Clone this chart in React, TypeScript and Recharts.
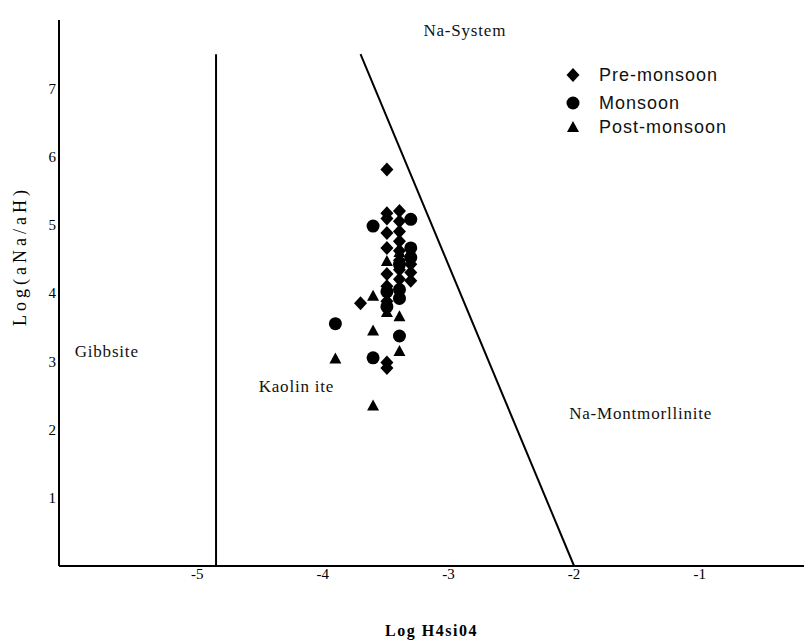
import {
  ScatterChart,
  Scatter,
  XAxis,
  YAxis,
  ReferenceLine,
  ReferenceDot,
} from "recharts";

type Pt = { x: number; y: number };

// Log H4SiO4 vs Log(aNa/aH)
const preMonsoon: Pt[] = [
  { x: -3.49, y: 5.81 }, { x: -3.49, y: 5.17 }, { x: -3.49, y: 5.09 },
  { x: -3.49, y: 4.88 }, { x: -3.49, y: 4.66 }, { x: -3.49, y: 4.28 },
  { x: -3.49, y: 4.1 }, { x: -3.49, y: 3.88 }, { x: -3.7, y: 3.85 },
  { x: -3.49, y: 2.98 }, { x: -3.49, y: 2.9 }, { x: -3.39, y: 5.2 },
  { x: -3.39, y: 5.05 }, { x: -3.39, y: 4.9 }, { x: -3.39, y: 4.76 },
  { x: -3.39, y: 4.62 }, { x: -3.39, y: 4.48 }, { x: -3.39, y: 4.34 },
  { x: -3.39, y: 4.2 }, { x: -3.3, y: 4.42 }, { x: -3.3, y: 4.3 },
  { x: -3.3, y: 4.18 },
];

const monsoon: Pt[] = [
  { x: -3.6, y: 4.98 }, { x: -3.3, y: 5.08 }, { x: -3.3, y: 4.66 },
  { x: -3.3, y: 4.52 }, { x: -3.39, y: 4.05 }, { x: -3.39, y: 3.92 },
  { x: -3.49, y: 4.02 }, { x: -3.49, y: 3.8 }, { x: -3.9, y: 3.55 },
  { x: -3.39, y: 3.37 }, { x: -3.6, y: 3.05 }, { x: -3.39, y: 4.42 },
];

const postMonsoon: Pt[] = [
  { x: -3.49, y: 4.47 }, { x: -3.6, y: 3.96 }, { x: -3.39, y: 3.66 },
  { x: -3.49, y: 3.72 }, { x: -3.6, y: 3.45 }, { x: -3.9, y: 3.04 },
  { x: -3.39, y: 3.15 }, { x: -3.6, y: 2.35 }, { x: -3.39, y: 4.6 },
];

const xTicks = [-5, -4, -3, -2, -1];
const yTicks = [1, 2, 3, 4, 5, 6, 7];

// stability field boundaries
const gibbsiteKaolinite: Pt[] = [{ x: -4.85, y: 0 }, { x: -4.85, y: 7.5 }];
const kaoliniteMont: Pt[] = [{ x: -3.7, y: 7.5 }, { x: -2, y: 0 }];

const fields = [
  { name: "Na-System", x: -2.87, y: 7.85 },
  { name: "Gibbsite", x: -5.72, y: 3.15 },
  { name: "Kaolin ite", x: -4.21, y: 2.63 },
  { name: "Na-Montmorllinite", x: -1.47, y: 2.23 },
];

const SERIF = '"Liberation Serif", "DejaVu Serif", serif';
const SANS = '"Liberation Sans", Arial, sans-serif';

const Diamond = (p: any) => (
  <polygon
    points={`${p.cx},${p.cy - 7} ${p.cx + 6.5},${p.cy} ${p.cx},${p.cy + 7} ${p.cx - 6.5},${p.cy}`}
    fill="#000"
  />
);
const Circle = (p: any) => <circle cx={p.cx} cy={p.cy} r={6.5} fill="#000" />;
const Triangle = (p: any) => (
  <polygon
    points={`${p.cx},${p.cy - 6} ${p.cx + 6},${p.cy + 5} ${p.cx - 6},${p.cy + 5}`}
    fill="#000"
  />
);

const fieldLabel = (text: string) => (props: any) => {
  const vb = props.viewBox;
  return (
    <text
      x={vb.x + vb.width / 2}
      y={vb.y + vb.height / 2}
      textAnchor="middle"
      dominantBaseline="central"
      fontFamily={SERIF}
      fontSize={17}
      letterSpacing={0.8}
      fill="#111"
    >
      {text}
    </text>
  );
};

const legendItems = [
  { label: "Pre-monsoon", Shape: Diamond, top: 66 },
  { label: "Monsoon", Shape: Circle, top: 94 },
  { label: "Post-monsoon", Shape: Triangle, top: 118 },
];

export default function App() {
  return (
    <div style={{ position: "absolute", left: 0, top: 0, width: 804, height: 643, background: "#fff" }}>
      <ScatterChart
        width={804}
        height={643}
        margin={{ top: 20, right: 0, bottom: 0, left: 0 }}
      >
        <XAxis
          type="number"
          dataKey="x"
          domain={[-6.1, -0.17]}
          ticks={xTicks}
          allowDataOverflow
          height={77}
          tickLine={false}
          tickSize={2}
          tickMargin={0}
          axisLine={{ stroke: "#000", strokeWidth: 2 }}
          tick={{ fill: "#000", fontSize: 15, fontFamily: SERIF }}
          label={(props: any) => {
            const vb = props.viewBox;
            return (
              <text
                x={vb.x + vb.width / 2}
                y={vb.y + 64}
                textAnchor="middle"
                dominantBaseline="central"
                fontFamily={SERIF}
                fontWeight="bold"
                fontSize={16}
                letterSpacing={1.5}
                fill="#000"
              >
                Log H4si04
              </text>
            );
          }}
        />
        <YAxis
          type="number"
          dataKey="y"
          domain={[0, 8]}
          ticks={yTicks}
          allowDataOverflow
          width={59}
          tickLine={false}
          tickSize={3}
          tickMargin={0}
          axisLine={{ stroke: "#000", strokeWidth: 2 }}
          tick={{ fill: "#000", fontSize: 15, fontFamily: SERIF }}
          label={(props: any) => {
            const vb = props.viewBox;
            const cx = 20;
            const cy = vb.y + 236;
            return (
              <text
                x={cx}
                y={cy}
                transform={`rotate(-90 ${cx} ${cy})`}
                textAnchor="middle"
                dominantBaseline="central"
                fontFamily={SERIF}
                fontSize={18}
                letterSpacing={4}
                fill="#000"
              >
                Log(aNa/aH)
              </text>
            );
          }}
        />

        <ReferenceLine segment={gibbsiteKaolinite} stroke="#000" strokeWidth={2} ifOverflow="visible" />
        <ReferenceLine segment={kaoliniteMont} stroke="#000" strokeWidth={2} ifOverflow="visible" />

        {fields.map((f) => (
          <ReferenceDot
            key={f.name}
            x={f.x}
            y={f.y}
            r={0}
            stroke="none"
            fill="none"
            ifOverflow="visible"
            label={fieldLabel(f.name)}
          />
        ))}

        <Scatter name="Pre-monsoon" data={preMonsoon} shape={Diamond} isAnimationActive={false} />
        <Scatter name="Monsoon" data={monsoon} shape={Circle} isAnimationActive={false} />
        <Scatter name="Post-monsoon" data={postMonsoon} shape={Triangle} isAnimationActive={false} />
      </ScatterChart>

      {/* legend, top right inside the plot */}
      {legendItems.map(({ label, Shape, top }) => (
        <div
          key={label}
          style={{
            position: "absolute",
            left: 564,
            top,
            height: 18,
            display: "flex",
            alignItems: "center",
            fontFamily: SANS,
            fontSize: 18,
            letterSpacing: 1,
            color: "#111",
            whiteSpace: "nowrap",
          }}
        >
          <svg width={18} height={18} style={{ marginRight: 17 }}>
            <Shape cx={9} cy={9} />
          </svg>
          {label}
        </div>
      ))}
    </div>
  );
}
